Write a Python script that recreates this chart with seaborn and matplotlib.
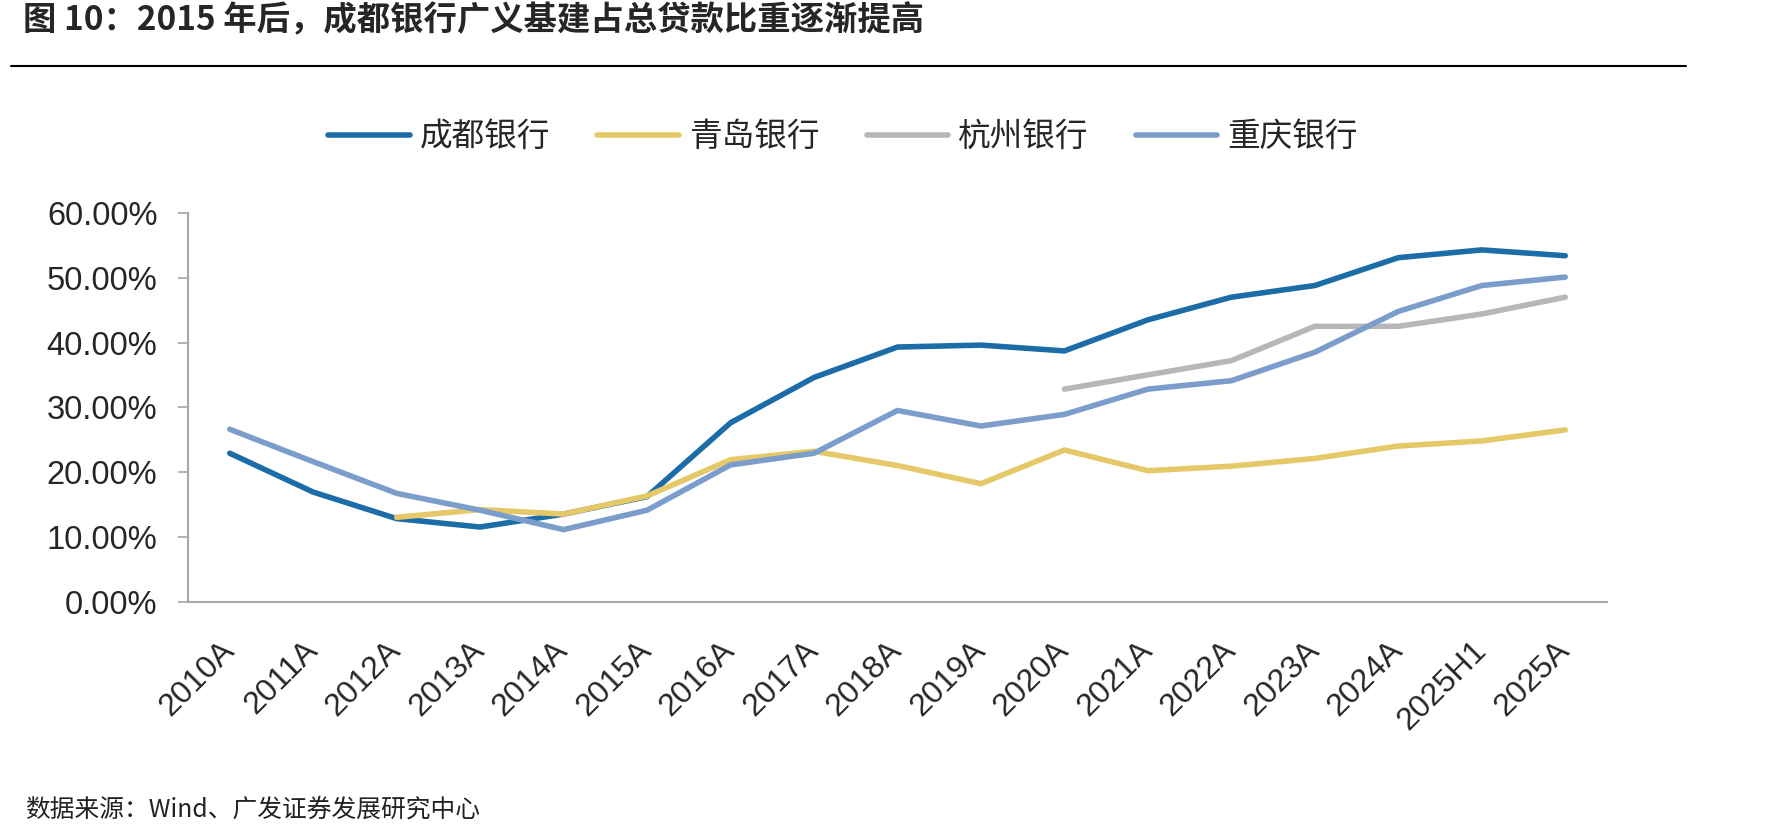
import pandas as pd
import numpy as np
import matplotlib
matplotlib.use('Agg')
import matplotlib.pyplot as plt
import seaborn as sns

# Categories (x axis)
periods = ['2010A', '2011A', '2012A', '2013A', '2014A', '2015A', '2016A', '2017A',
           '2018A', '2019A', '2020A', '2021A', '2022A', '2023A', '2024A', '2025H1', '2025A']

# Share of broad infrastructure loans in total loans (%)
chengdu = [22.9, 16.9, 12.8, 11.5, 13.5, 16.2, 27.6, 34.6, 39.3, 39.6,
           38.7, 43.5, 47.0, 48.8, 53.1, 54.3, 53.4]
qingdao = [np.nan, np.nan, 13.0, 14.2, 13.5, 16.3, 21.9, 23.2, 21.0, 18.2,
           23.4, 20.2, 20.9, 22.1, 24.0, 24.8, 26.5]
hangzhou = [np.nan] * 10 + [32.8, 35.0, 37.2, 42.5, 42.5, 44.4, 47.0]
chongqing = [26.6, 21.6, 16.7, 14.1, 11.1, 14.1, 21.1, 22.9, 29.5, 27.1,
             28.9, 32.8, 34.1, 38.5, 44.8, 48.8, 50.1]

banks = ['成都银行', '青岛银行', '杭州银行', '重庆银行']
colors = {'成都银行': '#1C6CA7', '青岛银行': '#E5C867',
          '杭州银行': '#B7B7B7', '重庆银行': '#7B9DCB'}

frames = []
for name, vals in zip(banks, [chengdu, qingdao, hangzhou, chongqing]):
    frames.append(pd.DataFrame({'period': periods, 'value': vals, 'bank': name}))
df = pd.concat(frames, ignore_index=True).dropna()

sns.set_style('white')
plt.rcParams['font.family'] = ['Liberation Sans', 'Noto Sans CJK SC']
cjk = ['Noto Sans CJK SC', 'DejaVu Sans']

fig = plt.figure(figsize=(17.9, 8.38), dpi=100)
ax = fig.add_axes([188 / 1790, 1 - 601.5 / 838, (1607 - 188) / 1790, (601.5 - 213) / 838])

sns.lineplot(data=df, x='period', y='value', hue='bank', hue_order=banks,
             palette=colors, linewidth=4, solid_capstyle='round', ax=ax)

ax.set_xlim(-0.5, len(periods) - 0.5)
ax.set_ylim(0, 60)
ax.set_yticks(range(0, 61, 10))
ax.set_yticklabels([f'{v:.2f}%' for v in range(0, 61, 10)], fontsize=23.5)
ax.set_xticks(range(len(periods)))
ax.set_xticklabels(periods, fontsize=23, rotation=45, ha='right', va='center',
                   rotation_mode='anchor')
ax.set_xlabel('')
ax.set_ylabel('')

for s in ['top', 'right']:
    ax.spines[s].set_visible(False)
for s in ['left', 'bottom']:
    ax.spines[s].set_color('#A6A6A6')
    ax.spines[s].set_linewidth(1.5)
ax.tick_params(axis='y', left=True, length=7, width=1.2, color='#A6A6A6', pad=15)
ax.tick_params(axis='x', bottom=False, length=0, pad=32)

handles, labels = ax.get_legend_handles_labels()
ax.get_legend().remove()
fig.legend(handles, labels, loc='center', bbox_to_anchor=(843 / 1790, 1 - 137 / 838),
           ncol=4, frameon=False, prop={'family': cjk, 'size': 23.5},
           handlelength=2.5, handletextpad=0.3, columnspacing=1.45)

fig.text(23 / 1790, 1 - 21 / 838, '图 10：2015 年后，成都银行广义基建占总贷款比重逐渐提高',
         family=cjk, fontsize=24, fontweight='bold', ha='left', va='center')
fig.add_artist(plt.Line2D([11 / 1790, 1686 / 1790], [1 - 66 / 838, 1 - 66 / 838],
                          color='black', linewidth=1.5))
fig.text(25 / 1790, 1 - 810 / 838, '数据来源：Wind、广发证券发展研究中心',
         family=cjk, fontsize=17.8, color='#222222', ha='left', va='center')

fig.savefig('out.png', dpi=100)
